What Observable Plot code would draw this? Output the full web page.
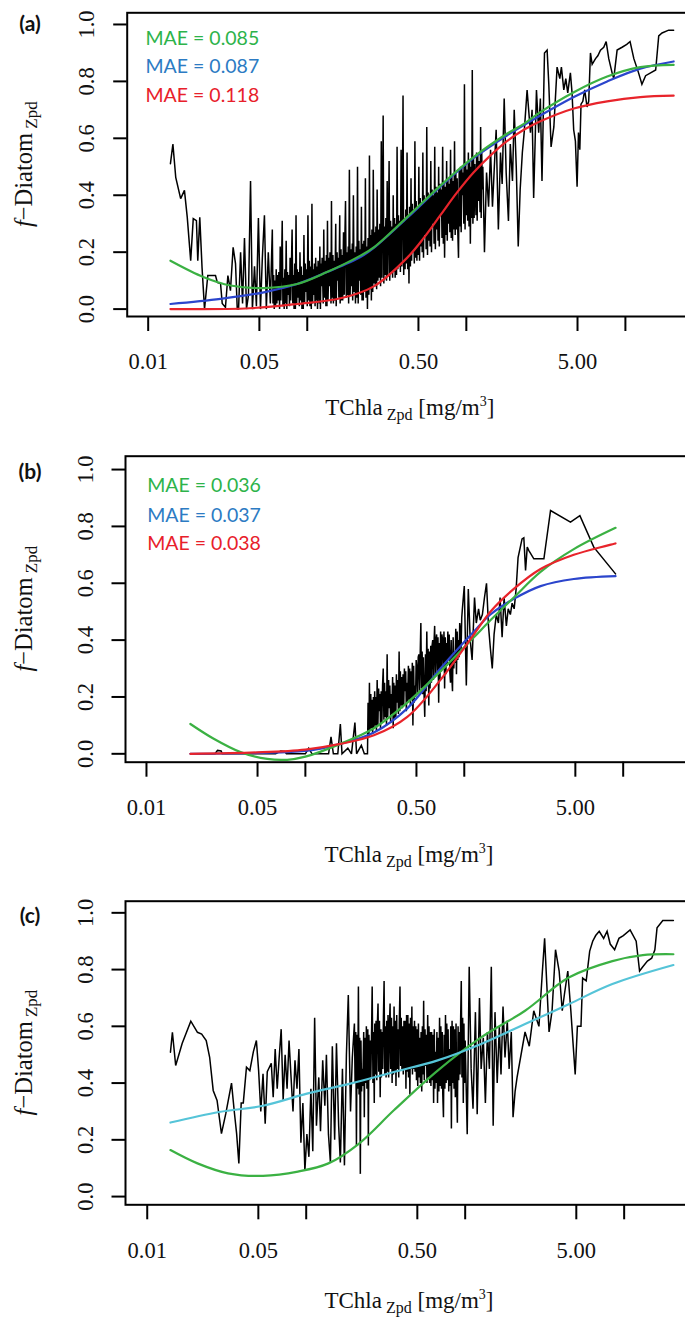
<!DOCTYPE html>
<html><head><meta charset="utf-8">
<script src="https://cdn.jsdelivr.net/npm/d3@7"></script>
<script src="https://cdn.jsdelivr.net/npm/@observablehq/plot@0.6"></script>
<style>
html,body{margin:0;padding:0;background:#fff;overflow:hidden;width:685px;height:1318px}
#root{position:relative;width:685px;height:1318px;overflow:hidden;background:#fff}
#root svg{max-width:none !important;position:absolute;left:0;background:transparent}
</style></head>
<body><div id="root"></div>
<script>
// ---------- data ----------
const xTicks = [0.01, 0.05, 0.1, 0.5, 1, 5, 10];
const xTickLabels = ["0.01", "0.05", "", "0.50", "", "5.00", ""];
const yTicks = [0, 0.2, 0.4, 0.6, 0.8, 1.0];
const yTickLabels = ["0.0", "0.2", "0.4", "0.6", "0.8", "1.0"];
const panelLabels = ["(a)", "(b)", "(c)"];
const maeA = ["MAE = 0.085", "MAE = 0.087", "MAE = 0.118"];
const maeB = ["MAE = 0.036", "MAE = 0.037", "MAE = 0.038"];

const obsA = [[0.0138,0.511],[0.0143,0.58],[0.0149,0.463],[0.0160,0.388],[0.0169,0.417],[0.0176,0.323],[0.0185,0.17],[0.0192,0.318],[0.0201,0.311],[0.0205,0.17],[0.0211,0.323],[0.0218,0.147],[0.0226,0.0],[0.0237,0.118],[0.0265,0.118],[0.0272,0.094],[0.0285,0.09],[0.0292,0.02],[0.0306,0.006],[0.0317,0.118],[0.0329,0.065],[0.0342,0.217],[0.0354,0.16],[0.0363,0.0],
[0.0370,0.00],[0.0381,0.20],[0.0392,0.02],[0.0403,0.25],[0.0415,0.00],[0.0427,0.05],[0.0440,0.45],[0.0452,0.00],[0.0466,0.15],[0.0479,0.01],[0.0493,0.32],[0.0508,0.00],[0.0522,0.18],[0.0538,0.33],[0.0553,0.00],[0.0569,0.20],[0.0586,0.02],[0.0603,0.28],[0.0620,0.00],[0.0638,0.14],[0.0657,0.03],[0.0676,0.22],[0.0696,0.31],[0.0716,0.00],[0.0737,0.24],[0.0758,0.05],[0.0780,0.18],[0.0803,0.28],[0.0826,0.00],[0.0850,0.33],[0.0875,0.04],[0.0900,0.20],[0.0926,0.00],[0.0953,0.26],[0.0981,0.06],[0.101,0.33],[0.104,0.01],[0.107,0.37],[0.110,0.05],[0.113,0.18],[0.116,0.00],[0.120,0.22],[0.123,0.08],[0.127,0.28],[0.131,0.01],[0.134,0.31],[0.138,0.08],[0.142,0.38],[0.146,0.02],[0.151,0.30],[0.155,0.10],[0.160,0.33],[0.164,0.03],[0.169,0.27],[0.174,0.38],[0.179,0.05],[0.184,0.49],[0.190,0.08],[0.195,0.40],[0.201,0.02],[0.207,0.50],[0.213,0.10],[0.219,0.36],[0.225,0.03],[0.232,0.46],[0.239,0.00],[0.246,0.54],[0.253,0.03],[0.260,0.49],[0.268,0.08],[0.275,0.42],[0.283,0.11],[0.292,0.59],[0.300,0.68],[0.309,0.12],[0.318,0.45],[0.327,0.52],[0.337,0.13],[0.347,0.40],[0.357,0.11],[0.367,0.57],[0.378,0.15],[0.389,0.56],[0.400,0.75],[0.412,0.14],[0.424,0.55],[0.436,0.09],[0.449,0.46],[0.462,0.20],[0.475,0.59],[0.489,0.17],[0.503,0.50],[0.518,0.22],[0.533,0.55],[0.548,0.26],[0.564,0.64],[0.581,0.24],[0.598,0.52],[0.615,0.30],[0.633,0.57],[0.651,0.28],[0.670,0.50],[0.690,0.33],[0.710,0.57],[0.730,0.18],[0.752,0.52],[0.773,0.30],[0.796,0.56],[0.819,0.24],[0.843,0.59],[0.867,0.28],[0.893,0.18],[0.919,0.50],[0.945,0.40],[0.973,0.79],[1.00,0.33],[1.03,0.55],[1.06,0.23],[1.09,0.84],[1.12,0.32],[1.16,0.55],[1.19,0.38],[1.23,0.64],[1.26,0.42],[1.30,0.20],[1.34,0.48],[1.38,0.36],[1.42,0.56],[1.46,0.36],[1.50,0.50],[1.54,0.63],[1.59,0.28],[1.64,0.55],[1.68,0.44],[1.73,0.74],[1.78,0.48],[1.84,0.31],[1.89,0.58],[1.95,0.45],[2.00,0.70],[2.06,0.50],[2.12,0.22],[2.18,0.42],[2.25,0.55],[2.31,0.62],[2.41,0.77],
[2.53,0.62],[2.59,0.70],[2.65,0.39],[2.76,0.77],[2.85,0.62],[2.92,0.74],[2.99,0.45],[3.10,0.90],[3.22,0.91],[3.30,0.79],[3.41,0.57],[3.55,0.64],[3.72,0.85],[3.87,0.81],[3.96,0.85],[4.10,0.77],[4.22,0.81],[4.34,0.76],[4.51,0.83],[4.62,0.76],[4.73,0.63],[4.85,0.59],[4.97,0.43],[5.07,0.62],[5.17,0.56],[5.26,0.72],[5.40,0.73],[5.55,0.77],[5.74,0.71],[5.88,0.73],[6.03,0.90],[6.18,0.86],[6.49,0.88],[6.71,0.89],[6.97,0.91],[7.31,0.92],[7.57,0.94],[7.86,0.88],[8.25,0.83],[8.45,0.81],[8.87,0.91],[9.53,0.92],[10.2,0.93],[10.7,0.94],[11.3,0.88],[12.1,0.83],[12.7,0.79],[13.4,0.82],[14.4,0.83],[15.5,0.84],[16.2,0.96],[17.0,0.97],[18.7,0.98],[20.1,0.98]];

// dense lower mass of panel (a), read between the spikes above
const obsAFill = [[0.0609,0.02],[0.0615,0.12],[0.0626,0.10],[0.0632,0.01],[0.0644,0.02],[0.0650,0.12],[0.0663,0.13],[0.0670,0.00],[0.0682,0.03],[0.0689,0.15],[0.0703,0.01],[0.0709,0.11],[0.0723,0.14],[0.0730,0.02],[0.0744,0.00],[0.0751,0.13],[0.0765,0.12],[0.0773,0.01],[0.0787,0.03],[0.0795,0.15],[0.0811,0.02],[0.0818,0.12],[0.0834,0.16],[0.0842,0.00],[0.0858,0.02],[0.0866,0.14],[0.0883,0.13],[0.0892,0.01],[0.0909,0.03],[0.0917,0.15],[0.0935,0.12],[0.0944,0.00],[0.0962,0.02],[0.0971,0.16],[0.0990,0.14],[0.1000,0.01],[0.102,0.03],[0.103,0.17],[0.105,0.15],[0.106,0.00],[0.108,0.02],[0.109,0.14],[0.111,0.16],[0.112,0.01],[0.114,0.03],[0.115,0.15],[0.117,0.17],[0.119,0.02],[0.121,0.00],[0.122,0.16],[0.124,0.18],[0.126,0.02],[0.128,0.04],[0.130,0.17],[0.132,0.19],[0.133,0.01],[0.135,0.03],[0.137,0.18],[0.139,0.20],[0.141,0.02],[0.143,0.04],[0.145,0.19],[0.148,0.17],[0.149,0.03],[0.152,0.01],[0.154,0.20],[0.157,0.18],[0.158,0.04],[0.161,0.02],[0.163,0.21],[0.166,0.19],[0.167,0.03],[0.171,0.05],[0.172,0.22],[0.176,0.04],[0.177,0.20],[0.181,0.22],[0.182,0.02],[0.186,0.05],[0.188,0.21],[0.192,0.23],[0.193,0.03],[0.197,0.06],[0.199,0.20],[0.203,0.22],[0.205,0.04],[0.209,0.02],[0.211,0.24],[0.215,0.21],[0.217,0.05],[0.221,0.03],[0.223,0.23],[0.227,0.24],[0.230,0.06],[0.234,0.04],[0.237,0.22],[0.241,0.25],[0.244,0.05],[0.248,0.07],[0.251,0.26],[0.255,0.28],[0.258,0.06],[0.263,0.09],[0.265,0.27],[0.270,0.29],[0.273,0.07],[0.278,0.10],[0.280,0.28],[0.286,0.30],[0.289,0.08],[0.295,0.11],[0.297,0.31],[0.303,0.09],[0.306,0.29],[0.312,0.32],[0.315,0.10],[0.321,0.12],[0.324,0.30],[0.330,0.10],[0.334,0.31],[0.340,0.29],[0.344,0.11],[0.350,0.13],[0.354,0.32],[0.360,0.30],[0.364,0.12],[0.371,0.14],[0.374,0.33],[0.382,0.31],[0.385,0.13],[0.393,0.15],[0.396,0.34],[0.404,0.12],[0.408,0.32],[0.416,0.35],[0.420,0.16],[0.428,0.14],[0.432,0.33],[0.440,0.36],[0.445,0.15],[0.453,0.17],[0.458,0.37],[0.466,0.35],[0.471,0.16],[0.480,0.18],[0.484,0.38],[0.494,0.36],[0.498,0.19],[0.508,0.17],[0.513,0.39],[0.523,0.37],[0.528,0.20],[0.538,0.18],[0.543,0.40],[0.553,0.38],[0.559,0.21],[0.570,0.19],[0.575,0.41],[0.587,0.39],[0.592,0.22],[0.604,0.20],[0.609,0.42],[0.621,0.40],[0.627,0.23],[0.639,0.21],[0.645,0.43],[0.657,0.41],[0.664,0.24],[0.676,0.22],[0.683,0.44],[0.697,0.42],[0.703,0.25],[0.717,0.23],[0.723,0.45],[0.737,0.43],[0.745,0.26],[0.759,0.24],[0.766,0.46],[0.781,0.44],[0.788,0.27],[0.804,0.25],[0.811,0.47],[0.827,0.45],[0.835,0.28],[0.851,0.26],[0.859,0.48],[0.876,0.46],[0.884,0.27],[0.902,0.49],[0.910,0.29],[0.928,0.27],[0.936,0.50],[0.954,0.48],[0.964,0.30],[0.982,0.28],[0.991,0.51],[1.01,0.49],[1.02,0.31],[1.04,0.29],[1.05,0.52],[1.07,0.50],[1.08,0.32],[1.10,0.30],[1.11,0.53],[1.13,0.51],[1.15,0.33],[1.17,0.31],[1.18,0.54],[1.20,0.52],[1.22,0.34],[1.24,0.32],[1.25,0.55],[1.27,0.50],[1.29,0.30]];

const greenA = [[0.0138,0.17],[0.0224,0.112],[0.0329,0.083],[0.0533,0.074],[0.0863,0.088],[0.133,0.13],[0.216,0.188],[0.262,0.217],[0.424,0.323],[0.687,0.434],[1.11,0.534],[1.80,0.616],[2.30,0.651],[2.92,0.692],[4.74,0.762],[7.68,0.817],[12.4,0.850],[20.1,0.858]];
const blueA = [[0.0138,0.018],[0.0285,0.036],[0.0533,0.059],[0.0863,0.088],[0.133,0.13],[0.216,0.183],[0.262,0.215],[0.424,0.32],[0.687,0.43],[1.11,0.53],[1.80,0.61],[2.92,0.68],[4.74,0.745],[7.68,0.80],[12.4,0.845],[20.1,0.87]];
const redA = [[0.0138,0.0],[0.0436,0.003],[0.0863,0.018],[0.162,0.038],[0.262,0.08],[0.424,0.18],[0.540,0.25],[0.687,0.33],[0.875,0.41],[1.11,0.48],[1.42,0.54],[1.80,0.59],[2.30,0.63],[2.92,0.66],[4.74,0.705],[7.68,0.73],[12.4,0.745],[20.1,0.75]];

const obsB = [[0.0200,0],[0.0270,0],[0.0280,0.012],[0.0295,0.010],[0.0300,0],[0.0650,0],[0.0700,0.010],[0.0740,0.008],[0.0760,0],[0.100,0],[0.105,0.02],[0.110,0],[0.140,0],[0.145,0.06],[0.150,0],[0.160,0],[0.166,0.105],[0.170,0],[0.185,0.02],[0.195,0],[0.205,0.11],[0.210,0],[0.225,0.03],[0.235,0],
[0.246,0.00],[0.253,0.25],[0.260,0.09],[0.268,0.20],[0.275,0.10],[0.283,0.26],[0.292,0.15],[0.300,0.22],[0.309,0.30],[0.318,0.13],[0.327,0.35],[0.337,0.16],[0.347,0.21],[0.357,0.09],[0.367,0.24],[0.378,0.18],[0.389,0.36],[0.400,0.17],[0.412,0.28],[0.424,0.22],[0.436,0.25],[0.449,0.19],[0.462,0.29],[0.475,0.10],[0.489,0.24],[0.503,0.30],[0.518,0.35],[0.533,0.46],[0.548,0.21],[0.564,0.13],[0.581,0.43],[0.598,0.17],[0.615,0.38],[0.633,0.40],[0.651,0.45],[0.670,0.42],[0.690,0.18],[0.710,0.43],[0.730,0.40],[0.752,0.23],[0.773,0.39],[0.796,0.33],[0.819,0.25],[0.843,0.22],[0.867,0.35],[0.893,0.28],[0.919,0.40],[0.945,0.44],[0.973,0.51],[1.00,0.59],[1.03,0.24],[1.06,0.58],[1.09,0.40],[1.12,0.33],[1.16,0.55],[1.19,0.46],[1.23,0.51],[1.26,0.47],[1.30,0.49],[1.34,0.55],[1.38,0.60],[1.42,0.45],[1.46,0.37],[1.50,0.30],[1.54,0.42],[1.59,0.49],[1.64,0.46],[1.68,0.55],[1.73,0.41],[1.78,0.55],[1.84,0.45],[1.89,0.51],[1.95,0.49],[2.00,0.53],[2.06,0.51],[2.12,0.58],[2.18,0.69],
[2.31,0.756],[2.37,0.76],[2.43,0.645],[2.49,0.727],[2.55,0.715],[2.74,0.686],[3.17,0.686],[3.49,0.856],[4.66,0.815],[5.34,0.838],[6.53,0.727],[8.95,0.633]];

// dense band of panel (b)
const obsBFill = [[0.248,0.18],[0.251,0.06],[0.255,0.08],[0.258,0.21],[0.263,0.19],[0.265,0.07],[0.270,0.09],[0.273,0.22],[0.278,0.20],[0.280,0.08],[0.286,0.10],[0.289,0.23],[0.295,0.21],[0.297,0.09],[0.303,0.11],[0.306,0.24],[0.312,0.12],[0.315,0.25],[0.321,0.22],[0.324,0.10],[0.330,0.13],[0.334,0.26],[0.340,0.24],[0.344,0.11],[0.350,0.14],[0.354,0.27],[0.360,0.25],[0.364,0.12],[0.371,0.13],[0.374,0.28],[0.382,0.26],[0.385,0.14],[0.393,0.15],[0.396,0.29],[0.404,0.27],[0.408,0.16],[0.416,0.17],[0.420,0.30],[0.428,0.29],[0.432,0.15],[0.440,0.18],[0.445,0.31],[0.453,0.30],[0.458,0.17],[0.466,0.19],[0.471,0.32],[0.480,0.31],[0.484,0.18],[0.494,0.20],[0.498,0.33],[0.508,0.21],[0.513,0.34],[0.523,0.22],[0.528,0.35],[0.538,0.23],[0.543,0.36],[0.553,0.34],[0.559,0.20],[0.570,0.35],[0.575,0.22],[0.587,0.24],[0.592,0.37],[0.604,0.36],[0.609,0.23],[0.621,0.25],[0.627,0.38],[0.639,0.26],[0.645,0.39],[0.657,0.27],[0.664,0.40],[0.676,0.28],[0.683,0.41],[0.697,0.39],[0.703,0.26],[0.717,0.29],[0.723,0.42],[0.737,0.30],[0.745,0.43],[0.759,0.41],[0.766,0.28],[0.781,0.31],[0.788,0.43],[0.804,0.42],[0.811,0.29],[0.827,0.40],[0.835,0.27],[0.851,0.41],[0.859,0.30],[0.876,0.32],[0.884,0.44],[0.902,0.43],[0.910,0.33],[0.928,0.34],[0.936,0.46],[0.954,0.36],[0.964,0.48]];

const greenB = [[0.0189,0.105],[0.0265,0.053],[0.0391,0.006],[0.0575,-0.018],[0.0768,-0.021],[0.100,-0.01],[0.166,0.035],[0.270,0.09],[0.438,0.18],[0.708,0.29],[1.15,0.41],[1.46,0.47],[2.05,0.55],[3.02,0.64],[4.89,0.72],[8.95,0.795]];
const blueB = [[0.0189,0.0],[0.05,0.003],[0.1,0.01],[0.166,0.035],[0.270,0.075],[0.438,0.16],[0.708,0.30],[1.15,0.43],[1.46,0.49],[2.05,0.545],[3.02,0.59],[4.89,0.615],[8.95,0.625]];
const redB = [[0.0189,0.0],[0.05,0.005],[0.1,0.015],[0.166,0.035],[0.270,0.065],[0.438,0.13],[0.708,0.26],[1.15,0.42],[1.46,0.50],[2.05,0.58],[3.02,0.65],[4.89,0.70],[8.95,0.74]];

const obsC = [[0.0140,0.509],[0.0144,0.579],[0.0151,0.462],[0.0166,0.54],[0.0188,0.618],[0.0207,0.579],[0.0220,0.573],[0.0235,0.55],[0.0247,0.491],[0.0260,0.374],[0.0275,0.339],[0.0293,0.222],[0.0312,0.292],[0.0339,0.40],[0.0354,0.292],[0.0365,0.222],[0.0377,0.117],[0.0390,0.33],[0.0402,0.33],[0.0421,0.456],[0.0442,0.444],[0.0465,0.51],[0.0486,0.55],[0.0502,0.444],[0.0518,0.30],[0.0535,0.433],[0.0552,0.257],[0.0569,0.44],
[0.0603,0.47],[0.0620,0.35],[0.0638,0.52],[0.0657,0.38],[0.0676,0.49],[0.0696,0.59],[0.0716,0.34],[0.0737,0.50],[0.0758,0.38],[0.0780,0.55],[0.0803,0.42],[0.0826,0.30],[0.0850,0.48],[0.0875,0.38],[0.0900,0.52],[0.0926,0.19],[0.0953,0.33],[0.0981,0.09],[0.101,0.22],[0.104,0.14],[0.107,0.38],[0.110,0.16],[0.113,0.63],[0.116,0.25],[0.120,0.42],[0.123,0.23],[0.127,0.48],[0.131,0.32],[0.134,0.50],[0.138,0.22],[0.142,0.12],[0.146,0.53],[0.151,0.20],[0.155,0.54],[0.160,0.25],[0.164,0.12],[0.169,0.45],[0.174,0.11],[0.179,0.50],[0.184,0.71],[0.190,0.30],[0.195,0.49],[0.201,0.61],[0.207,0.18],[0.213,0.74],[0.219,0.08],[0.225,0.45],[0.232,0.28],[0.239,0.60],[0.246,0.18],[0.253,0.55],[0.260,0.74],[0.268,0.33],[0.275,0.62],[0.283,0.68],[0.292,0.35],[0.300,0.58],[0.309,0.76],[0.318,0.42],[0.327,0.64],[0.337,0.68],[0.347,0.40],[0.357,0.67],[0.367,0.39],[0.378,0.59],[0.389,0.74],[0.400,0.45],[0.412,0.62],[0.424,0.38],[0.436,0.64],[0.449,0.36],[0.462,0.67],[0.475,0.45],[0.489,0.60],[0.503,0.39],[0.518,0.56],[0.533,0.37],[0.548,0.69],[0.564,0.46],[0.581,0.64],[0.598,0.40],[0.615,0.58],[0.633,0.33],[0.651,0.51],[0.670,0.33],[0.690,0.63],[0.710,0.38],[0.730,0.28],[0.752,0.64],[0.773,0.41],[0.796,0.52],[0.819,0.24],[0.843,0.60],[0.867,0.35],[0.893,0.26],[0.919,0.58],[0.945,0.76],[0.973,0.33],[1.00,0.55],[1.03,0.22],[1.06,0.81],[1.09,0.45],[1.12,0.31],[1.16,0.65],[1.19,0.29],[1.23,0.70],[1.26,0.45],[1.30,0.56],[1.34,0.33],[1.38,0.58],[1.42,0.45],[1.46,0.81],[1.50,0.25],[1.54,0.65],[1.59,0.40],[1.64,0.60],[1.68,0.43],[1.73,0.67],[1.78,0.49],[1.84,0.62],[1.89,0.45],[1.95,0.58],[2.00,0.28],[2.06,0.37],[2.12,0.42],
[2.38,0.58],[2.53,0.53],[2.70,0.655],[2.91,0.60],[3.06,0.795],[3.16,0.91],[3.26,0.75],[3.37,0.58],[3.52,0.655],[3.70,0.87],[3.90,0.795],[4.08,0.655],[4.21,0.713],[4.42,0.795],[4.62,0.655],[4.77,0.54],[4.92,0.43],[5.08,0.60],[5.35,0.60],[5.48,0.77],[5.77,0.76],[6.07,0.865],[6.34,0.90],[6.62,0.92],[6.97,0.935],[7.43,0.91],[7.81,0.935],[8.17,0.89],[8.71,0.87],[9.27,0.91],[9.88,0.92],[10.9,0.94],[11.9,0.90],[12.5,0.795],[13.1,0.81],[14.0,0.83],[14.9,0.84],[15.6,0.87],[16.1,0.947],[17.5,0.973],[20.4,0.973]];

// dense band of panel (c)
const obsCFill = [[0.203,0.40],[0.205,0.58],[0.209,0.57],[0.211,0.38],[0.215,0.36],[0.217,0.56],[0.221,0.55],[0.223,0.37],[0.227,0.39],[0.230,0.58],[0.234,0.56],[0.237,0.40],[0.241,0.38],[0.244,0.59],[0.248,0.57],[0.251,0.41],[0.255,0.42],[0.258,0.60],[0.263,0.40],[0.265,0.58],[0.270,0.61],[0.273,0.43],[0.278,0.41],[0.280,0.60],[0.286,0.44],[0.289,0.62],[0.295,0.59],[0.297,0.42],[0.303,0.45],[0.306,0.63],[0.312,0.43],[0.315,0.60],[0.321,0.62],[0.324,0.44],[0.330,0.42],[0.334,0.61],[0.340,0.45],[0.344,0.63],[0.350,0.60],[0.354,0.43],[0.360,0.44],[0.364,0.62],[0.371,0.64],[0.374,0.45],[0.382,0.42],[0.385,0.61],[0.393,0.46],[0.396,0.63],[0.404,0.60],[0.408,0.43],[0.416,0.45],[0.420,0.62],[0.428,0.64],[0.432,0.44],[0.440,0.42],[0.445,0.61],[0.453,0.63],[0.458,0.45],[0.466,0.43],[0.471,0.60],[0.480,0.62],[0.484,0.44],[0.494,0.41],[0.498,0.59],[0.508,0.61],[0.513,0.42],[0.523,0.40],[0.528,0.58],[0.538,0.60],[0.543,0.43],[0.553,0.41],[0.559,0.59],[0.570,0.57],[0.575,0.40],[0.587,0.42],[0.592,0.60],[0.604,0.58],[0.609,0.39],[0.621,0.41],[0.627,0.57],[0.639,0.59],[0.645,0.38],[0.657,0.40],[0.664,0.58],[0.676,0.56],[0.683,0.37],[0.697,0.39],[0.703,0.60],[0.717,0.58],[0.723,0.36],[0.737,0.57],[0.745,0.38],[0.759,0.40],[0.766,0.61],[0.781,0.59],[0.788,0.37],[0.804,0.39],[0.811,0.60],[0.827,0.62],[0.835,0.40],[0.851,0.38],[0.859,0.59],[0.876,0.61],[0.884,0.39],[0.902,0.60],[0.910,0.41],[0.928,0.43],[0.936,0.62],[0.954,0.42],[0.964,0.63],[0.982,0.61],[0.991,0.40]];

const greenC = [[0.0140,0.164],[0.0207,0.117],[0.0322,0.082],[0.0535,0.073],[0.0887,0.088],[0.138,0.117],[0.215,0.187],[0.356,0.304],[0.671,0.444],[1.26,0.561],[2.38,0.655],[4.48,0.772],[8.43,0.83],[13.1,0.851],[20.4,0.854]];
const cyanC = [[0.0140,0.261],[0.0284,0.298],[0.0535,0.32],[0.101,0.363],[0.189,0.398],[0.356,0.439],[0.671,0.48],[1.26,0.538],[2.38,0.608],[4.48,0.678],[8.43,0.749],[20.4,0.816]];

// ---------- styling / layout ----------
const GREEN = "#3bb143", BLUE = "#2b45cc", RED = "#e8242b", CYAN = "#55c4d8";
const MAE_COLORS = ["#2db34a", "#2c7bc3", "#e8202a"];
const SERIF = "'Liberation Serif','Times New Roman',serif";
const SANS = "Lato,'Open Sans',sans-serif";
const W = 700, FRAME_RIGHT = 693;
const byX = (a, b) => a[0] - b[0];

const panels = [
  {top: 0, height: 440, mt: 12.3, mb: 124, ml: 126.7, xdom: [0.00738, 26.8], ydom: [-0.026, 1.041],
   obs: obsA.concat(obsAFill).sort(byX), fits: [[blueA, BLUE], [redA, RED], [greenA, GREEN]], mae: maeA, maeDx: 18.3, maeDy: [26, 54.4, 82.7], labelDy: 11, titleDy: 99},
  {top: 440, height: 440, mt: 15.7, mb: 118.3, ml: 125, xdom: [0.00738, 27.7], ydom: [-0.0295, 1.047],
   obs: obsB.concat(obsBFill).sort(byX), fits: [[blueB, BLUE], [greenB, GREEN], [redB, RED]], mae: maeB, maeDx: 21.7, maeDy: [29.3, 59.3, 87.6], labelDy: 16, titleDy: 100},
  {top: 880, height: 438, mt: 20.7, mb: 113.7, ml: 125, xdom: [0.0073, 27.3], ydom: [-0.029, 1.041],
   obs: obsC.concat(obsCFill).sort(byX), fits: [[greenC, GREEN], [cyanC, CYAN]], mae: null, labelDy: 15.3, titleDy: 104}
];

const root = document.getElementById("root");

panels.forEach((p, pi) => {
  const marks = [];
  marks.push(Plot.line(p.obs, {x: d => d[0], y: d => d[1], stroke: "#000", strokeWidth: 1.5, strokeLinejoin: "miter", strokeMiterlimit: 3}));
  p.fits.forEach(([d, c]) => marks.push(Plot.line(d, {x: v => v[0], y: v => v[1], stroke: c, strokeWidth: 2.2, curve: "catmull-rom"})));
  marks.push(Plot.frame({stroke: "#000", strokeWidth: 2}));
  marks.push(Plot.axisX({ticks: xTicks, tickSize: 15, tickFormat: () => "", strokeWidth: 2, label: null}));
  marks.push(Plot.axisY({ticks: yTicks, tickSize: 13.5, tickFormat: () => "", strokeWidth: 2, label: null}));
  marks.push(Plot.text(xTicks, {x: d => d, text: (d, i) => xTickLabels[i], frameAnchor: "bottom", dy: 45.5,
    lineAnchor: "middle", fontSize: 22.5, fontFamily: SERIF, fill: "#111"}));
  marks.push(Plot.text(yTicks, {y: d => d, text: (d, i) => yTickLabels[i], frameAnchor: "left", dx: -40,
    rotate: -90, textAnchor: "middle", lineAnchor: "middle", fontSize: 22.5, fontFamily: SERIF, fill: "#111"}));
  marks.push(Plot.text([panelLabels[pi]], {text: d => d, frameAnchor: "top-left", dx: 29.5 - p.ml, dy: p.labelDy,
    textAnchor: "middle", lineAnchor: "middle", fontSize: 21, fontWeight: "bold", fontFamily: SANS, fill: "#111"}));
  if (p.mae) p.mae.forEach((t, i) => marks.push(Plot.text([t], {text: d => d, frameAnchor: "top-left", dx: p.maeDx, dy: p.maeDy[i],
    textAnchor: "start", lineAnchor: "middle", fontSize: 19.5, fontFamily: SANS, fill: MAE_COLORS[i]})));

  const svg = Plot.plot({
    width: W, height: p.height,
    marginTop: p.mt, marginBottom: p.mb, marginLeft: p.ml, marginRight: W - FRAME_RIGHT,
    x: {type: "log", domain: p.xdom, label: null},
    y: {domain: p.ydom, label: null},
    style: {background: "transparent", overflow: "visible"},
    marks
  });
  svg.style.top = p.top + "px";
  root.appendChild(svg);

  const s = d3.select(svg);
  const bottom = p.height - p.mb;
  // x axis title
  const xt = s.append("text").attr("x", (p.ml + FRAME_RIGHT) / 2).attr("y", bottom + p.titleDy)
    .attr("text-anchor", "middle").attr("font-family", SERIF).attr("font-size", 23).attr("fill", "#111");
  xt.append("tspan").text("TChla");
  xt.append("tspan").attr("font-size", 16).attr("dy", 5).text(" Zpd");
  xt.append("tspan").attr("dy", -5).text(" [mg/m");
  xt.append("tspan").attr("font-size", 14).attr("dy", -9).text("3");
  xt.append("tspan").attr("dy", 9).text("]");
  // y axis title
  const cy = (p.mt + bottom) / 2;
  const yt = s.append("text").attr("transform", `translate(32,${cy}) rotate(-90)`)
    .attr("text-anchor", "middle").attr("font-family", SERIF).attr("font-size", 24.5).attr("fill", "#111");
  yt.append("tspan").attr("font-style", "italic").text("f");
  yt.append("tspan").text("\u2212Diatom");
  yt.append("tspan").attr("font-size", 17).attr("dy", 5).text(" Zpd");
});
</script>
</body></html>
